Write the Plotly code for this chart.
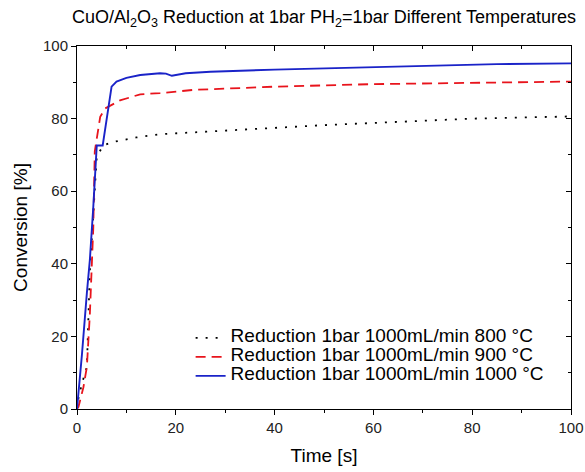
import plotly.graph_objects as go

t_800 = [0, 0.3, 1.0, 2.0, 2.6, 3.3, 4.0, 5.3, 7.4, 12, 16.8, 26.2, 40, 50, 60, 70, 80, 90, 100]
c_800 = [0, 3, 7, 11.6, 38, 55, 69.5, 72.6, 73.6, 74.8, 75.7, 76.4, 77.5, 78.2, 78.8, 79.4, 80.0, 80.3, 80.6]

t_900 = [0, 0.3, 1.3, 2.0, 2.6, 3.3, 3.6, 4.7, 5.7, 8.7, 12.8, 16.8, 23.5, 40, 60, 80, 100]
c_900 = [0, 0.6, 6, 11.6, 26, 50, 71, 80.5, 82.8, 85, 86.7, 87, 87.9, 88.8, 89.5, 89.9, 90.2]

t_1000 = [0, 0.5, 1, 2, 2.6, 3.3, 4.0, 5.2, 6, 7, 8, 10, 12.8, 16.8, 18, 19.2, 22, 27, 40, 55, 70, 85, 100]
c_1000 = [0, 7, 15, 32, 41, 55.7, 72.6, 72.6, 80, 88.8, 90.2, 91.2, 92, 92.5, 92.4, 91.8, 92.5, 92.9, 93.5, 94.0, 94.6, 95.0, 95.2]

names = ["Reduction 1bar 1000mL/min 800 °C",
         "Reduction 1bar 1000mL/min 900 °C",
         "Reduction 1bar 1000mL/min 1000 °C"]

x_ticks = [0, 20, 40, 60, 80, 100]
y_ticks = [0, 20, 40, 60, 80, 100]

LEG_SIZE = 19


def leg(s):
    return f'<span style="font-size:{LEG_SIZE}px">{s}</span>'


fig = go.Figure()
fig.add_trace(go.Scatter(x=t_800, y=c_800, mode="lines", name=leg(names[0]),
                         line=dict(color="black", width=1.8, dash="2px,8px")))
fig.add_trace(go.Scatter(x=t_900, y=c_900, mode="lines", name=leg(names[1]),
                         line=dict(color="#e8141c", width=1.8, dash="10px,6px")))
fig.add_trace(go.Scatter(x=t_1000, y=c_1000, mode="lines", name=leg(names[2]),
                         line=dict(color="#1a23c8", width=1.9)))
# invisible trace to activate the mirrored (inside-tick) top/right axes
fig.add_trace(go.Scatter(x=t_1000, y=c_1000, mode="lines", xaxis="x2", yaxis="y2",
                         line=dict(width=0, color="rgba(0,0,0,0)"), showlegend=False,
                         hoverinfo="skip"))

font = "Liberation Sans, Arial, sans-serif"
common = dict(showgrid=False, zeroline=False, linecolor="black", linewidth=1,
              tickcolor="black", ticklen=5, tickwidth=1, automargin=False,
              tickfont=dict(family=font, size=15, color="#222222"))

fig.update_layout(
    width=585, height=472,
    margin=dict(l=77, r=14, t=46, b=63),
    paper_bgcolor="white", plot_bgcolor="white",
    font=dict(family=font, color="black"),
    title=dict(text="CuO/Al<sub>2</sub>O<sub>3</sub> Reduction at 1bar PH<sub>2</sub>=1bar Different Temperatures",
               x=0.5, xref="paper", xanchor="center", y=1 - 17 / 472, yref="container", yanchor="middle",
               font=dict(family=font, size=18, color="black")),
    xaxis=dict(range=[0, 100], tickvals=x_ticks, ticks="outside",
               minor=dict(ticks="outside", ticklen=3, dtick=10, tickcolor="black"),
               title=dict(text="Time [s]", font=dict(family=font, size=19, color="black"), standoff=13),
               **common),
    yaxis=dict(range=[0, 100], tickvals=y_ticks, ticks="outside",
               minor=dict(ticks="outside", ticklen=3, dtick=10, tickcolor="black"),
               title=dict(text="Conversion [%]", font=dict(family=font, size=19, color="black"), standoff=10),
               **common),
    xaxis2=dict(range=[0, 100], tickvals=x_ticks, ticks="inside", overlaying="x", side="top",
                showticklabels=False,
                minor=dict(ticks="inside", ticklen=3, dtick=10, tickcolor="black"),
                **common),
    yaxis2=dict(range=[0, 100], tickvals=y_ticks, ticks="inside", overlaying="y", side="right",
                showticklabels=False,
                minor=dict(ticks="inside", ticklen=3, dtick=10, tickcolor="black"),
                **common),
    legend=dict(x=0.23, y=0.236, xanchor="left", yanchor="top", bgcolor="rgba(0,0,0,0)",
                font=dict(family=font, size=10, color="black"), tracegroupgap=0,
                itemwidth=30),
    showlegend=True,
)

fig.write_html("out.html")
